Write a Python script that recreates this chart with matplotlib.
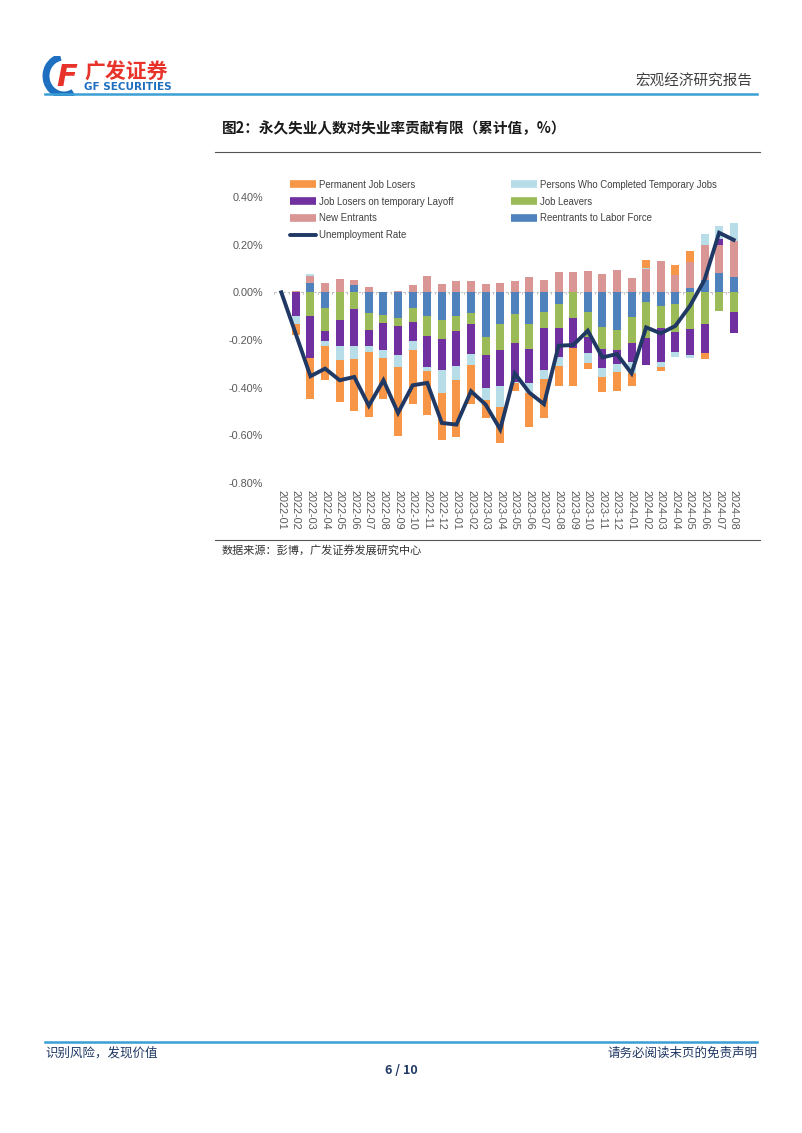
import numpy as np
import matplotlib
matplotlib.use('Agg')
import matplotlib.pyplot as plt
from matplotlib.patches import Arc
from matplotlib.lines import Line2D

plt.rcParams['font.family'] = ['Noto Sans CJK SC', 'DejaVu Sans']

months = ['2022-01', '2022-02', '2022-03', '2022-04', '2022-05', '2022-06', '2022-07', '2022-08',
          '2022-09', '2022-10', '2022-11', '2022-12', '2023-01', '2023-02', '2023-03', '2023-04',
          '2023-05', '2023-06', '2023-07', '2023-08', '2023-09', '2023-10', '2023-11', '2023-12',
          '2024-01', '2024-02', '2024-03', '2024-04', '2024-05', '2024-06', '2024-07', '2024-08']

# contributions, in %
reentrants = [0, 0, 0.04, -0.066, 0, 0.032, -0.087, -0.094, -0.108, -0.066, -0.10, -0.115,
              -0.10, -0.087, -0.187, -0.133, -0.091, -0.134, -0.081, -0.049, 0, -0.084, -0.144, -0.158,
              -0.102, -0.039, -0.057, -0.05, 0.017, 0.052, 0.083, 0.063]
new_entrants = [0, 0.005, 0.028, 0.039, 0.055, 0.021, 0.024, 0.0, 0.005, 0.031, 0.07, 0.036,
                0.049, 0.046, 0.035, 0.041, 0.046, 0.066, 0.052, 0.087, 0.087, 0.091, 0.077, 0.094,
                0.059, 0.098, 0.133, 0.073, 0.112, 0.147, 0.116, 0.154]
job_leavers = [0, 0, -0.10, -0.098, -0.117, -0.07, -0.07, -0.035, -0.032, -0.058, -0.082, -0.081,
               -0.061, -0.046, -0.077, -0.109, -0.123, -0.105, -0.07, -0.102, -0.106, -0.102, -0.095, -0.084,
               -0.109, -0.154, -0.091, -0.115, -0.155, -0.134, -0.077, -0.081]
temp_layoff = [0, -0.098, -0.175, -0.042, -0.107, -0.154, -0.067, -0.114, -0.122, -0.082, -0.131, -0.128,
               -0.147, -0.124, -0.137, -0.15, -0.161, -0.14, -0.175, -0.122, -0.129, -0.07, -0.077, -0.06,
               -0.08, -0.112, -0.143, -0.084, -0.108, -0.122, 0.025, -0.088]
completed_temp = [0, -0.035, 0.01, -0.018, -0.059, -0.056, -0.028, -0.033, -0.051, -0.035, -0.018, -0.098,
                  -0.058, -0.046, -0.049, -0.091, -0.007, -0.042, -0.038, -0.036, 0, -0.042, -0.041, -0.031,
                  -0.047, 0.006, -0.021, -0.024, -0.014, 0.045, 0.056, 0.076]
permanent = [0, -0.047, -0.173, -0.145, -0.179, -0.22, -0.272, -0.172, -0.291, -0.226, -0.185, -0.196,
             -0.242, -0.164, -0.077, -0.148, -0.031, -0.143, -0.165, -0.083, -0.157, -0.025, -0.06, -0.081,
             -0.056, 0.03, -0.018, 0.04, 0.046, -0.025, 0, 0]
unemployment = [0, -0.176, -0.352, -0.32, -0.369, -0.355, -0.476, -0.369, -0.506, -0.39, -0.38, -0.548,
                -0.555, -0.415, -0.471, -0.575, -0.34, -0.421, -0.469, -0.224, -0.221, -0.161, -0.273, -0.259,
                -0.34, -0.147, -0.172, -0.141, -0.057, 0.052, 0.25, 0.22]

# stacking order from zero outwards
stack = [
    (reentrants, 'Reentrants to Labor Force', '#4F81BD'),
    (new_entrants, 'New Entrants', '#D99694'),
    (job_leavers, 'Job Leavers', '#9BBB59'),
    (temp_layoff, 'Job Losers on temporary Layoff', '#7030A0'),
    (completed_temp, 'Persons Who Completed Temporary Jobs', '#B7DEE8'),
    (permanent, 'Permanent Job Losers', '#F79646'),
]
colors = {name: c for _, name, c in stack}
line_color = '#203864'

W, H = 802, 1133
fig = plt.figure(figsize=(W / 100, H / 100), dpi=100)


def fx(px):
    return px / W


def fy(py):
    return 1 - py / H


# ---- header
ax_logo = fig.add_axes([fx(42), fy(96), fx(40), 40 / H])
ax_logo.set_xlim(0, 1)
ax_logo.set_ylim(0, 1)
ax_logo.axis('off')
ax_logo.add_patch(Arc((0.55, 0.5), 0.9, 0.95, theta1=100, theta2=300, lw=5, color='#1E6FC0'))
ax_logo.text(0.62, 0.47, 'F', color='#E8332A', fontsize=22, fontweight='bold', ha='center', va='center',
             family='DejaVu Sans', style='italic')
fig.text(fx(84), fy(72), '广发证券', color='#E8332A', fontsize=15, fontweight='bold', va='center')
fig.text(fx(84), fy(87), 'GF SECURITIES', color='#1E6FC0', fontsize=7.5, fontweight='bold', va='center',
         family='DejaVu Sans')
fig.text(fx(752), fy(82), '宏观经济研究报告', color='#404040', fontsize=10.5, ha='right', va='center')
fig.add_artist(Line2D([fx(45), fx(757)], [fy(94), fy(94)], color='#3A9FD5', lw=1.8))

# ---- title
fig.text(fx(222), fy(128), '图2：永久失业人数对失业率贡献有限（累计值，%）', fontsize=10.5, fontweight='bold',
         va='center', color='#1a1a1a')
fig.add_artist(Line2D([fx(215), fx(760)], [fy(152), fy(152)], color='#555555', lw=0.8))
fig.add_artist(Line2D([fx(215), fx(760)], [fy(540), fy(540)], color='#555555', lw=0.8))
fig.text(fx(222), fy(551), '数据来源：彭博，广发证券发展研究中心', fontsize=8, va='center', color='#333333')

# ---- chart
ax = fig.add_axes([fx(274), fy(483), fx(467), (483 - 197) / H])
x = np.arange(len(months))
pos_base = np.zeros(len(months))
neg_base = np.zeros(len(months))
for vals, name, c in stack:
    v = np.array(vals)
    p = np.where(v > 0, v, 0)
    n = np.where(v < 0, v, 0)
    ax.bar(x, p, bottom=pos_base, width=0.55, color=c, linewidth=0)
    ax.bar(x, n, bottom=neg_base, width=0.55, color=c, linewidth=0)
    pos_base += p
    neg_base += n
ax.plot(x, unemployment, color=line_color, lw=2.8, solid_joinstyle='miter')

ax.set_xlim(-0.5, len(months) - 0.5)
ax.set_ylim(-0.8, 0.4)
yt = [-0.8, -0.6, -0.4, -0.2, 0.0, 0.2, 0.4]
ax.set_yticks(yt)
ax.set_yticklabels([f'{t:.2f}%' for t in yt], family='Liberation Sans')
ax.tick_params(axis='y', length=0, labelsize=7.8, labelcolor='#595959', pad=8)
ax.set_xticks(x)
ax.set_xticklabels(months, rotation=-90, fontsize=7.8, color='#595959', family='Liberation Sans')
ax.tick_params(axis='x', length=0, pad=5)
for s in ax.spines.values():
    s.set_visible(False)
ax.axhline(0, color='#BFBFBF', lw=0.8, ls=(0, (2, 2)), zorder=0.5)
for xi in np.arange(-0.5, len(months), 1):
    ax.plot([xi, xi], [0, -0.008], color='#BFBFBF', lw=0.6, zorder=0.5)

# legend laid out row by row (column-major fill order)
legend_order = ['Permanent Job Losers', 'Job Losers on temporary Layoff', 'New Entrants', 'Unemployment Rate',
                'Persons Who Completed Temporary Jobs', 'Job Leavers', 'Reentrants to Labor Force']
handles = []
for n in legend_order:
    if n == 'Unemployment Rate':
        handles.append(Line2D([0], [0], color=line_color, lw=2.8, solid_capstyle='round'))
    else:
        handles.append(Line2D([0], [0], color=colors[n], lw=5.5, solid_capstyle='butt'))
fig.legend(handles, legend_order, loc='upper left', bbox_to_anchor=(fx(281), fy(171)), ncol=2, frameon=False,
           handlelength=2.7, handletextpad=0.35, columnspacing=6.0, labelspacing=0.72,
           prop={'family': 'Liberation Sans', 'size': 6.9}, labelcolor='#404040')

# ---- footer
fig.add_artist(Line2D([fx(45), fx(757)], [fy(1042), fy(1042)], color='#3A9FD5', lw=1.8))
fig.text(fx(45), fy(1053), '识别风险，发现价值', fontsize=9, color='#1F3864', va='center')
fig.text(fx(757), fy(1053), '请务必阅读末页的免责声明', fontsize=9, color='#1F3864', va='center', ha='right')
fig.text(fx(401), fy(1070), '6 / 10', fontsize=9, color='#1F3864', va='center', ha='center', fontweight='bold')

fig.savefig('out.png', dpi=100)
